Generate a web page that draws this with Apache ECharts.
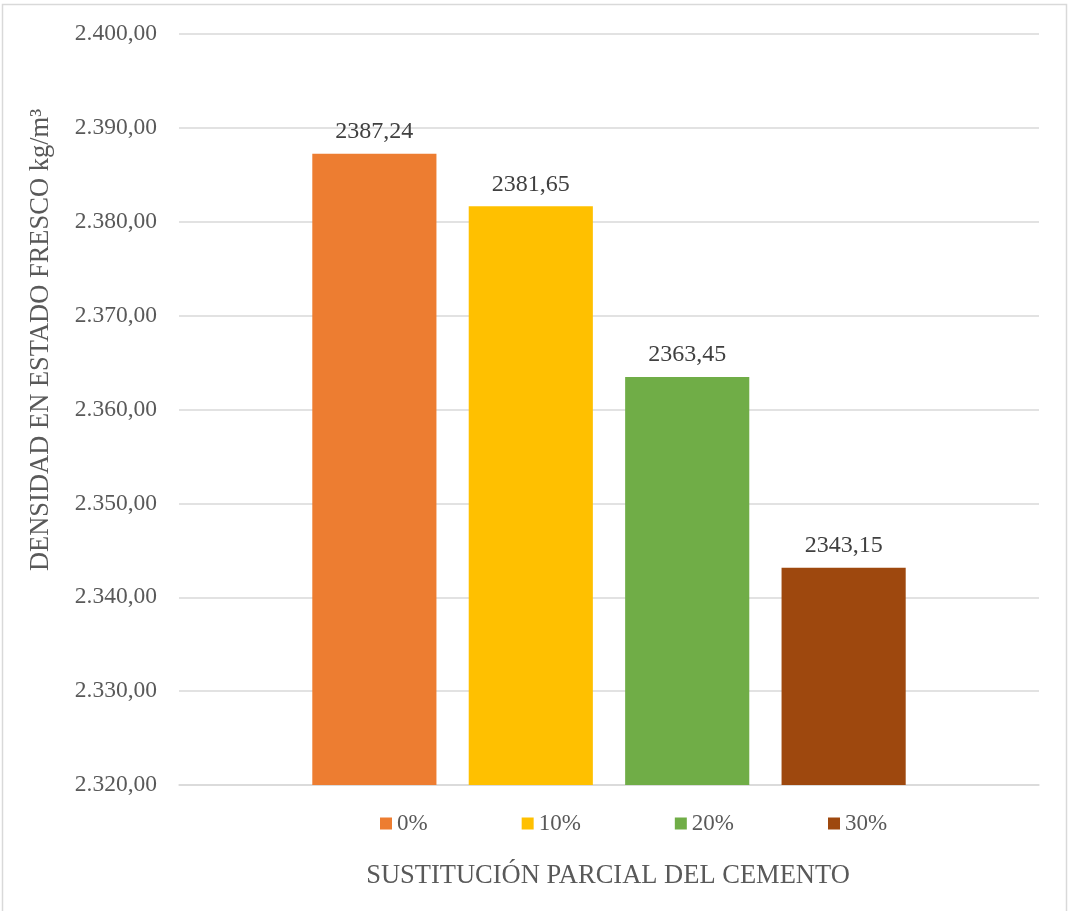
<!DOCTYPE html>
<html>
<head>
<meta charset="utf-8">
<script src="https://cdn.jsdelivr.net/npm/echarts@6/dist/echarts.min.js"></script>
<style>
  html, body { margin: 0; padding: 0; background: #fff; }
  #chart { width: 1068px; height: 911px; }
</style>
</head>
<body>
<div id="chart"></div>
<script>
// Fresh-state density for each level of cement replacement
const seriesNames = ['0%', '10%', '20%', '30%'];
const densities = [2387.24, 2381.65, 2363.45, 2343.15];
const barColors = ['#ED7D31', '#FFC000', '#70AD47', '#9E480E'];
const yTitle = 'DENSIDAD EN ESTADO FRESCO kg/m³';
const xTitle = 'SUSTITUCIÓN PARCIAL DEL CEMENTO';

const FONT = '"Liberation Serif", "Times New Roman", serif';

// Spanish number format: thousands with '.', decimals with ','
function esFormat(v, decimals) {
  const parts = v.toFixed(decimals).split('.');
  parts[0] = parts[0].replace(/\B(?=(\d{3})+(?!\d))/g, '.');
  return parts.join(',');
}

const chart = echarts.init(document.getElementById('chart'), null, { renderer: 'canvas' });

const series = seriesNames.map((name, i) => ({
  name: name,
  type: 'bar',
  data: [densities[i]],
  itemStyle: { color: barColors[i] },
  barGap: '26%',
  barCategoryGap: '31%',
  label: {
    show: true,
    position: 'top',
    distance: 10,
    formatter: p => p.value.toFixed(2).replace('.', ','),
    color: '#404040',
    fontFamily: FONT,
    fontSize: 24
  }
}));

chart.setOption({
  backgroundColor: '#fff',
  animation: false,
  textStyle: { fontFamily: FONT },
  grid: { left: 179, right: 29, top: 34, bottom: 126 },
  legend: {
    data: seriesNames,
    top: 807,
    left: 375,
    itemWidth: 12,
    itemHeight: 12,
    itemGap: 94,
    icon: 'rect',
    textStyle: { color: '#595959', fontFamily: FONT, fontSize: 23 }
  },
  xAxis: {
    type: 'category',
    data: [''],
    axisLine: { show: true, lineStyle: { color: '#d9d9d9', width: 1.5 } },
    axisTick: { show: false },
    axisLabel: { show: false }
  },
  yAxis: {
    type: 'value',
    min: 2320,
    max: 2400,
    interval: 10,
    axisLine: { show: false },
    axisTick: { show: false },
    axisLabel: {
      formatter: v => esFormat(v, 2),
      color: '#595959',
      fontFamily: FONT,
      fontSize: 23.5,
      margin: 22
    },
    splitLine: { lineStyle: { color: '#d9d9d9', width: 1.5 } }
  },
  graphic: [
    {
      type: 'rect',
      shape: { x: 2.5, y: 4.5, width: 1064, height: 912 },
      style: { fill: 'none', stroke: '#d9d9d9', lineWidth: 1.5 },
      silent: true,
      z: -1
    },
    {
      type: 'text',
      x: 41,
      y: 340,
      rotation: Math.PI / 2,
      style: {
        text: yTitle,
        fill: '#595959',
        font: '26.5px ' + FONT,
        textAlign: 'center',
        textVerticalAlign: 'middle'
      }
    },
    {
      type: 'text',
      x: 608,
      y: 876,
      style: {
        text: xTitle,
        fill: '#595959',
        font: '26.5px ' + FONT,
        textAlign: 'center',
        textVerticalAlign: 'middle'
      }
    }
  ],
  series: series
});
</script>
</body>
</html>
